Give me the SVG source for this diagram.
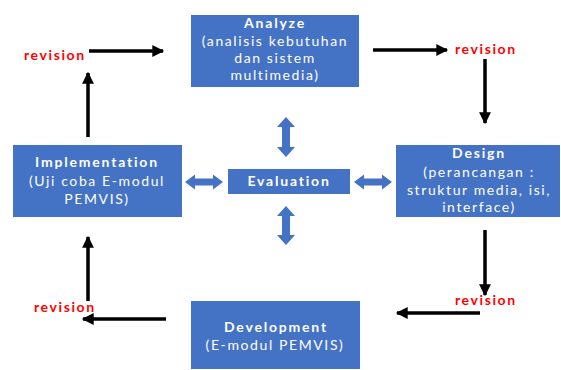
<svg xmlns="http://www.w3.org/2000/svg" width="561" height="370" viewBox="0 0 561 370">
<defs>
<style>
.box{fill:#4472C4;}
.t{font-family:Lato,"Open Sans","Liberation Sans",sans-serif;font-size:14px;letter-spacing:1.6px;fill:#fff;text-anchor:middle;}
.b{font-weight:bold;letter-spacing:1.8px;}
.rev{font-family:Lato,"Open Sans","Liberation Sans",sans-serif;font-size:14px;letter-spacing:1.6px;font-weight:bold;fill:#ff0000;}
.ln{stroke:#000;stroke-width:3.5;fill:none;}
.dbl{fill:#4472C4;}
</style>
<marker id="ah" viewBox="0 0 10 10" refX="9" refY="5" markerWidth="4" markerHeight="3.4" orient="auto" markerUnits="strokeWidth">
<path d="M0,0 L10,5 L0,10 Z" fill="#000"/>
</marker>
</defs>
<rect width="561" height="370" fill="#fff"/>
<g id="analyze">
<rect class="box" x="191" y="15" width="168" height="72"/>
<text class="t b" x="275" y="28">Analyze</text>
<text class="t" x="275" y="46">(analisis kebutuhan</text>
<text class="t" x="275" y="63">dan sistem</text>
<text class="t" x="275" y="80">multimedia)</text>
</g>
<g id="implementation">
<rect class="box" x="13" y="145" width="169" height="72"/>
<text class="t b" x="97" y="167">Implementation</text>
<text class="t" x="97" y="186">(Uji coba E-modul</text>
<text class="t" x="97" y="204">PEMVIS)</text>
</g>
<g id="evaluation">
<rect class="box" x="228" y="169" width="122" height="25"/>
<text class="t b" x="289" y="186">Evaluation</text>
</g>
<g id="design">
<rect class="box" x="396" y="145" width="164" height="72"/>
<text class="t b" x="479" y="158">Design</text>
<text class="t" x="479" y="177">(perancangan :</text>
<text class="t" x="479" y="195">struktur media, isi,</text>
<text class="t" x="479" y="212">interface)</text>
</g>
<g id="development">
<rect class="box" x="191" y="301" width="169" height="68"/>
<text class="t b" x="276" y="332">Development</text>
<text class="t" x="275" y="350">(E-modul PEMVIS)</text>
</g>
<g id="labels">
<text class="rev" x="24" y="60">revision</text>
<text class="rev" x="455" y="54">revision</text>
<text class="rev" x="455" y="305">revision</text>
<text class="rev" x="34" y="312">revision</text>
</g>
<g id="connectors">
<line class="ln" x1="89" y1="51" x2="163" y2="51" marker-end="url(#ah)"/>
<line class="ln" x1="88" y1="137" x2="88" y2="73" marker-end="url(#ah)"/>
<line class="ln" x1="373" y1="50" x2="447" y2="50" marker-end="url(#ah)"/>
<line class="ln" x1="485" y1="59" x2="485" y2="123" marker-end="url(#ah)"/>
<line class="ln" x1="485" y1="230" x2="485" y2="295" marker-end="url(#ah)"/>
<line class="ln" x1="480" y1="313" x2="397" y2="313" marker-end="url(#ah)"/>
<line class="ln" x1="166" y1="319" x2="83" y2="319" marker-end="url(#ah)"/>
<line class="ln" x1="88" y1="301" x2="88" y2="237" marker-end="url(#ah)"/>
<polygon class="dbl" points="286,117 295,127 290,127 290,147 295,147 286,157 277,147 282,147 282,127 277,127"/>
<polygon class="dbl" points="286,206 295,216 290,216 290,235 295,235 286,245 277,235 282,235 282,216 277,216"/>
<polygon class="dbl" points="185,182 195,174.5 195,178.5 213,178.5 213,174.5 223,182 213,189.5 213,185.5 195,185.5 195,189.5"/>
<polygon class="dbl" points="354,182 364,174.5 364,178.5 382,178.5 382,174.5 392,182 382,189.5 382,185.5 364,185.5 364,189.5"/>
</g>
</svg>
